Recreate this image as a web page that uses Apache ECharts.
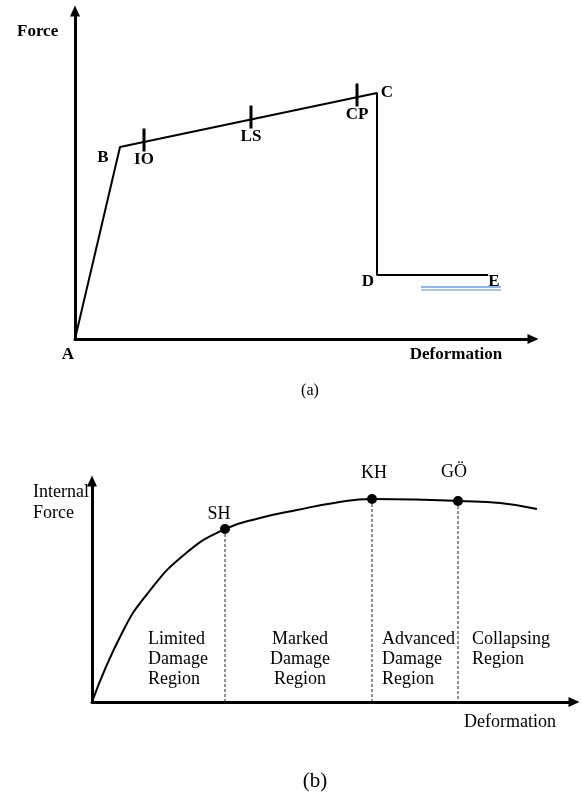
<!DOCTYPE html>
<html>
<head>
<meta charset="utf-8">
<script src="https://cdn.jsdelivr.net/npm/echarts@6/dist/echarts.min.js"></script>
<style>
  html, body { margin: 0; padding: 0; background: #fff; }
  #chart { width: 582px; height: 792px; }
</style>
</head>
<body>
<div id="chart"></div>
<script>
// (a) idealised force–deformation backbone A-B-C-D-E
const backbonePoints = ['A', 'B', 'C', 'D', 'E'];
const backboneDeformation = [0, 45, 302, 302, 413];
const backboneForce = [0, 192, 246, 64, 64];

// performance levels along the B–C branch
const levelNames = ['IO', 'LS', 'CP'];
const levelDeformation = [69, 176, 282];
const levelForce = [197, 220, 242];

// double underline beside E
const underlineDeformation = [346, 426];
const underlineForce = [52, 49];

// (b) internal force – deformation curve
const curveDeformation = [0, 30, 56, 93, 133, 168, 205, 242, 280, 323, 366, 408, 445];
const curveForce = [0, 69, 109, 148, 173, 184, 192, 199, 203, 202.5, 201, 199, 193];

// damage limits on the curve
const damageNames = ['SH', 'KH', 'GÖ'];
const damageDeformation = [133, 280, 366];
const damageForce = [173, 203, 201];

// region captions between the damage limits
const regionNames = ['Limited\nDamage\nRegion', 'Marked\nDamage\nRegion', 'Advanced\nDamage\nRegion', 'Collapsing\nRegion'];

const SERIF = '"Liberation Serif", "DejaVu Serif", serif';

const chart = echarts.init(document.getElementById('chart'), null, { renderer: 'canvas' });

function arrowAxis(gridIndex, max) {
  return {
    type: 'value', gridIndex: gridIndex, min: 0, max: max,
    axisLine: {
      show: true, onZero: false,
      symbol: ['none', 'triangle'], symbolSize: [10, 11],
      lineStyle: { color: '#000', width: 3 }
    },
    axisTick: { show: false }, axisLabel: { show: false }, splitLine: { show: false }
  };
}

const zip = (xs, ys) => xs.map((x, i) => [x, ys[i]]);

// label placement for the backbone vertices
const vertexOffset = { A: [-7, 16], B: [-17, 11], C: [10, 0], D: [-9, 7], E: [6, 7] };
// label placement for the damage limits
const damageOffset = { SH: [-6, -15], KH: [2, -26], 'GÖ': [-4, -29] };

const labelBase = { color: '#000', opacity: 1, textBorderWidth: 0, textShadowBlur: 0, fontFamily: SERIF };

const dashSeries = damageNames.map((n, i) => ({
  type: 'line', xAxisIndex: 1, yAxisIndex: 1, silent: true,
  data: [[damageDeformation[i], damageForce[i]], [damageDeformation[i], 0]],
  symbol: 'none', lineStyle: { color: '#222', width: 1, type: [3, 2] }, z: 2
}));

const option = {
  backgroundColor: '#fff',
  animation: false,
  title: [
    { text: '(a)', left: 305, top: 378, textAlign: 'center',
      textStyle: { fontFamily: SERIF, fontSize: 16, fontWeight: 'normal', color: '#000' } },
    { text: '(b)', left: 310, top: 766, textAlign: 'center',
      textStyle: { fontFamily: SERIF, fontSize: 21, fontWeight: 'normal', color: '#000' } }
  ],
  grid: [
    { left: 75, top: 11, right: 49, bottom: 453 },
    { left: 92, top: 481, right: 8, bottom: 90 }
  ],
  xAxis: [arrowAxis(0, 458), arrowAxis(1, 482)],
  yAxis: [arrowAxis(0, 328), arrowAxis(1, 221)],
  graphic: [
    { type: 'text', x: 17, y: 32, style: { text: 'Force', font: 'bold 17px ' + SERIF, fill: '#000', align: 'left', verticalAlign: 'middle' } },
    { type: 'text', x: 456, y: 355, style: { text: 'Deformation', font: 'bold 17px ' + SERIF, fill: '#000', align: 'center', verticalAlign: 'middle' } },
    { type: 'text', x: 33, y: 482, style: { text: 'Internal\nForce', font: '18px ' + SERIF, lineHeight: 21, fill: '#000', align: 'left', verticalAlign: 'top' } },
    { type: 'text', x: 510, y: 722, style: { text: 'Deformation', font: '18px ' + SERIF, fill: '#000', align: 'center', verticalAlign: 'middle' } },
    { type: 'text', x: 148, y: 629, style: { text: regionNames[0], font: '18px ' + SERIF, lineHeight: 20, fill: '#000', align: 'left', verticalAlign: 'top' } },
    { type: 'text', x: 300, y: 629, style: { text: regionNames[1], font: '18px ' + SERIF, lineHeight: 20, fill: '#000', align: 'center', verticalAlign: 'top' } },
    { type: 'text', x: 382, y: 629, style: { text: regionNames[2], font: '18px ' + SERIF, lineHeight: 20, fill: '#000', align: 'left', verticalAlign: 'top' } },
    { type: 'text', x: 472, y: 629, style: { text: regionNames[3], font: '18px ' + SERIF, lineHeight: 20, fill: '#000', align: 'left', verticalAlign: 'top' } }
  ],
  series: [
    {
      name: 'backbone', type: 'line', xAxisIndex: 0, yAxisIndex: 0,
      data: zip(backboneDeformation, backboneForce),
      symbol: 'none', lineStyle: { color: '#000', width: 2 }, z: 3
    },
    {
      name: 'vertices', type: 'scatter', xAxisIndex: 0, yAxisIndex: 0, symbolSize: 0,
      itemStyle: { opacity: 1 },
      data: backbonePoints.map((n, i) => ({
        name: n, value: [backboneDeformation[i], backboneForce[i]],
        label: { offset: vertexOffset[n] }
      })),
      label: Object.assign({ show: true, position: 'inside', formatter: '{b}',
        fontWeight: 'bold', fontSize: 17 }, labelBase),
      z: 5
    },
    {
      name: 'levels', type: 'scatter', xAxisIndex: 0, yAxisIndex: 0,
      symbol: 'rect', symbolSize: [3, 23], symbolOffset: [0, -2],
      itemStyle: { color: '#000', opacity: 1 },
      data: levelNames.map((n, i) => ({ name: n, value: [levelDeformation[i], levelForce[i]] })),
      label: Object.assign({ show: true, position: 'bottom', distance: 0, formatter: '{b}',
        fontWeight: 'bold', fontSize: 17 }, labelBase),
      z: 4
    },
    {
      name: 'underline1', type: 'line', xAxisIndex: 0, yAxisIndex: 0, silent: true,
      data: underlineDeformation.map(x => [x, underlineForce[0]]),
      symbol: 'none', lineStyle: { color: '#6f9be6', width: 1.5 }
    },
    {
      name: 'underline2', type: 'line', xAxisIndex: 0, yAxisIndex: 0, silent: true,
      data: underlineDeformation.map(x => [x, underlineForce[1]]),
      symbol: 'none', lineStyle: { color: '#8fb2ee', width: 1.5 }
    },
    {
      name: 'curve', type: 'line', xAxisIndex: 1, yAxisIndex: 1,
      data: zip(curveDeformation, curveForce),
      smooth: 0.5,
      symbol: 'none', lineStyle: { color: '#000', width: 2 }, z: 3
    },
    ...dashSeries,
    {
      name: 'limits', type: 'scatter', xAxisIndex: 1, yAxisIndex: 1,
      symbol: 'circle', symbolSize: 10, itemStyle: { color: '#000', opacity: 1 },
      data: damageNames.map((n, i) => ({
        name: n, value: [damageDeformation[i], damageForce[i]],
        label: { offset: damageOffset[n] }
      })),
      label: Object.assign({ show: true, position: 'inside', formatter: '{b}',
        fontSize: 18 }, labelBase),
      z: 5
    }
  ]
};

chart.setOption(option);
</script>
</body>
</html>
